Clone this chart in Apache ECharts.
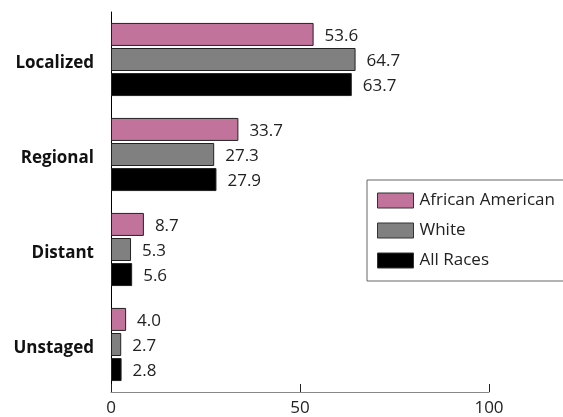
<!DOCTYPE html>
<html>
<head>
<meta charset="utf-8">
<script src="https://cdn.jsdelivr.net/npm/echarts@6/dist/echarts.min.js"></script>
<style>
  html, body { margin: 0; padding: 0; background: #fff; overflow: hidden; }
  #chart { width: 563px; height: 417px; }
</style>
</head>
<body>
<div id="chart"></div>
<script>
// Stage at diagnosis, percent of cases
const stages = ['Localized', 'Regional', 'Distant', 'Unstaged'];
const africanAmerican = [53.6, 33.7, 8.7, 4.0];
const white = [64.7, 27.3, 5.3, 2.7];
const allRaces = [63.7, 27.9, 5.6, 2.8];
const xTicks = [0, 50, 100];

const font = 'Open Sans';

function barSeries(name, data, color) {
  return {
    name: name,
    type: 'bar',
    data: data,
    barWidth: 23,
    barGap: '9%',
    itemStyle: { color: color, borderColor: '#222', borderWidth: 1 },
    label: {
      show: true,
      position: 'right',
      distance: 11,
      offset: [0, 2],
      color: '#222',
      fontFamily: font,
      fontSize: 17,
      formatter: p => p.value.toFixed(1)
    }
  };
}

const chart = echarts.init(document.getElementById('chart'), null, { renderer: 'canvas' });
chart.setOption({
  animation: false,
  backgroundColor: '#fff',
  grid: { left: 111, right: 74, top: 12, bottom: 24, containLabel: false },
  legend: {
    orient: 'vertical',
    left: 367,
    top: 180,
    padding: [12, 20, 12, 10],
    borderColor: '#666',
    borderWidth: 1,
    icon: 'rect',
    itemWidth: 36,
    itemHeight: 15,
    itemGap: 13,
    itemStyle: { borderColor: '#333', borderWidth: 1 },
    textStyle: { fontFamily: font, fontSize: 17, color: '#222', padding: [2, 0, 0, 1] },
    data: ['African American', 'White', 'All Races']
  },
  xAxis: {
    type: 'value',
    min: 0,
    max: 100,
    interval: 50,
    axisLine: { show: true, lineStyle: { color: '#888', width: 1 } },
    axisTick: { show: true, inside: true, length: 8, lineStyle: { color: '#222' } },
    splitLine: { show: false },
    axisLabel: {
      fontFamily: font, fontSize: 17, color: '#222', margin: 8,
      formatter: v => xTicks.includes(v) ? String(v) : ''
    }
  },
  yAxis: {
    type: 'category',
    data: stages,
    inverse: true,
    axisLine: { show: true, lineStyle: { color: '#000', width: 1 } },
    axisTick: { show: false },
    axisLabel: {
      margin: 17,
      formatter: v => '{c|' + v + '}',
      rich: {
        c: {
          fontFamily: font, fontSize: 17, fontWeight: 'bold', color: '#111',
          padding: [8, 0, 0, 0]
        }
      }
    }
  },
  series: [
    barSeries('African American', africanAmerican, '#c2739b'),
    barSeries('White', white, '#808080'),
    barSeries('All Races', allRaces, '#000000')
  ]
});
</script>
</body>
</html>
